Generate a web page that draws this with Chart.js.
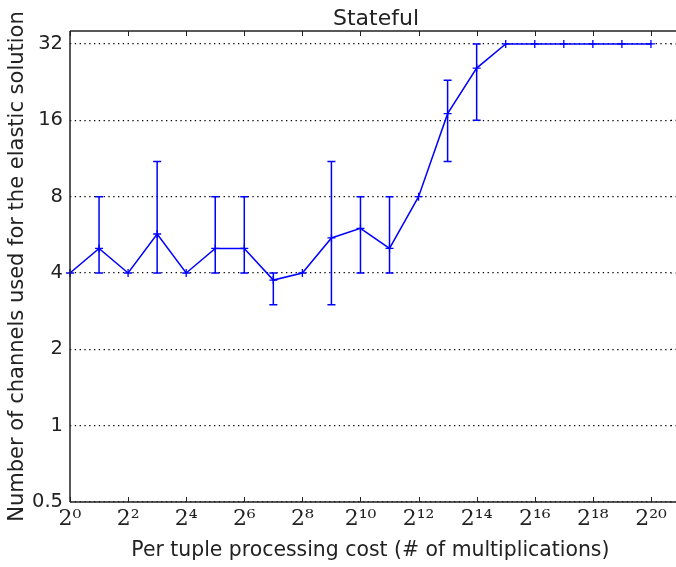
<!DOCTYPE html>
<html>
<head>
<meta charset="utf-8">
<script src="https://cdn.jsdelivr.net/npm/chart.js@4.4.0/dist/chart.umd.min.js"></script>
<style>
  html, body { margin: 0; padding: 0; background: #ffffff; }
  #wrap { width: 676px; height: 567px; }
</style>
</head>
<body>
<div id="wrap"><canvas id="c" width="676" height="567"></canvas></div>
<script>
// ---- data ----
const costs = [1, 2, 4, 8, 16, 32, 64, 128, 256, 512, 1024, 2048, 4096, 8192, 16384, 32768, 65536, 131072, 262144, 524288, 1048576];
const channels = [4, 5, 4, 5.7, 4, 5, 5, 3.75, 4, 5.5, 6, 5, 8, 17, 25.7, 32, 32, 32, 32, 32, 32];
const errLow  = [4, 4, 4, 4, 4, 4, 4, 3, 4, 3, 4, 4, 8, 11, 16, 32, 32, 32, 32, 32, 32];
const errHigh = [4, 8, 4, 11, 4, 8, 8, 4, 4, 11, 8, 8, 8, 23, 32, 32, 32, 32, 32, 32, 32];
const xTicks = [1, 4, 16, 64, 256, 1024, 4096, 16384, 65536, 262144, 1048576];
const xTickLabels = ['2⁰', '2²', '2⁴', '2⁶', '2⁸', '2¹⁰', '2¹²', '2¹⁴', '2¹⁶', '2¹⁸', '2²⁰'];
const yTicks = [0.5, 1, 2, 4, 8, 16, 32];
const yTickLabels = ['0.5', '1', '2', '4', '8', '16', '32'];
const chartTitle = 'Stateful';

const BLUE = '#0000ff';
const INK = '#222222';
const GRID_DASH = [1.3, 3.5];

const errorBars = {
  id: 'errorBars',
  afterDatasetsDraw(chart) {
    const ctx = chart.ctx, xs = chart.scales.x, ys = chart.scales.y;
    ctx.save();
    ctx.strokeStyle = BLUE;
    ctx.lineWidth = 1.5;
    costs.forEach((c, i) => {
      if (errLow[i] === errHigh[i]) return;
      const x = xs.getPixelForValue(c);
      const y1 = ys.getPixelForValue(errLow[i]);
      const y2 = ys.getPixelForValue(errHigh[i]);
      ctx.beginPath();
      ctx.moveTo(x, y1); ctx.lineTo(x, y2);
      ctx.moveTo(x - 4, y1); ctx.lineTo(x + 4, y1);
      ctx.moveTo(x - 4, y2); ctx.lineTo(x + 4, y2);
      ctx.stroke();
    });
    ctx.restore();
  }
};

const frame = {
  id: 'frame',
  beforeDatasetsDraw(chart) {
    // continue the dotted grid lines to the right edge of the canvas
    const ctx = chart.ctx, a = chart.chartArea, ys = chart.scales.y;
    ctx.save();
    ctx.strokeStyle = '#000000';
    ctx.lineWidth = 1.2;
    ctx.setLineDash(GRID_DASH);
    ctx.beginPath();
    yTicks.forEach(v => {
      const y = ys.getPixelForValue(v);
      ctx.moveTo(a.right, y); ctx.lineTo(chart.width, y);
    });
    ctx.stroke();
    ctx.restore();
  },
  afterDraw(chart) {
    const ctx = chart.ctx, a = chart.chartArea, xs = chart.scales.x;
    ctx.save();
    ctx.strokeStyle = INK;
    ctx.lineWidth = 1.5;
    ctx.beginPath();
    ctx.moveTo(a.left, a.top); ctx.lineTo(chart.width, a.top);
    ctx.moveTo(a.left, a.top); ctx.lineTo(a.left, a.bottom);
    ctx.moveTo(a.left, a.bottom); ctx.lineTo(chart.width, a.bottom);
    ctx.stroke();
    ctx.lineWidth = 1;
    ctx.beginPath();
    xTicks.forEach(v => {
      const x = Math.round(xs.getPixelForValue(v)) + 0.5;
      ctx.moveTo(x, a.bottom); ctx.lineTo(x, a.bottom - 5);
      ctx.moveTo(x, a.top); ctx.lineTo(x, a.top + 5);
    });
    ctx.stroke();
    // title centred over the axes box
    ctx.fillStyle = INK;
    ctx.font = '22px "DejaVu Sans"';
    ctx.textAlign = 'center';
    ctx.textBaseline = 'alphabetic';
    ctx.fillText(chartTitle, 376, 25);
    ctx.restore();
  }
};

new Chart(document.getElementById('c'), {
  type: 'line',
  data: {
    datasets: [{
      data: costs.map((c, i) => ({ x: c, y: channels[i] })),
      borderColor: BLUE,
      backgroundColor: BLUE,
      borderWidth: 1.5,
      pointStyle: 'cross',
      pointRadius: 4,
      pointBorderWidth: 1.3,
      pointBorderColor: BLUE,
      tension: 0,
      clip: false
    }]
  },
  options: {
    responsive: false,
    animation: false,
    devicePixelRatio: 1,
    layout: { padding: { left: 0, right: 0, top: 31, bottom: 0 } },
    plugins: {
      legend: { display: false },
      tooltip: { enabled: false },
      title: { display: false }
    },
    scales: {
      x: {
        type: 'logarithmic',
        min: 1,
        max: Math.pow(2, 20.68),
        afterBuildTicks(s) { s.ticks = xTicks.map(v => ({ value: v })); },
        afterFit(s) { s.height = 65; s.paddingLeft = 0; s.paddingRight = 0; },
        grid: { display: false, drawTicks: false },
        border: { display: false },
        ticks: {
          autoSkip: false,
          maxRotation: 0,
          padding: 4,
          color: INK,
          font: { family: 'DejaVu Serif', size: 22 },
          callback(v) { const i = xTicks.indexOf(v); return i >= 0 ? xTickLabels[i] : ''; }
        },
        title: {
          display: true,
          text: 'Per tuple processing cost (# of multiplications)',
          color: INK,
          font: { family: 'DejaVu Sans', size: 20.4 },
          padding: { top: 0, bottom: 4 }
        }
      },
      y: {
        type: 'logarithmic',
        min: 0.5,
        max: 36,
        afterBuildTicks(s) { s.ticks = yTicks.map(v => ({ value: v })); },
        afterFit(s) { s.width = 70; },
        grid: {
          display: true,
          drawTicks: false,
          color: '#000000',
          lineWidth: 1.2,
          tickLength: 0
        },
        border: { display: false, dash: GRID_DASH },
        ticks: {
          autoSkip: false,
          padding: 7,
          color: INK,
          font: { family: 'DejaVu Sans', size: 19.5 },
          callback(v) { const i = yTicks.indexOf(v); return i >= 0 ? yTickLabels[i] : ''; }
        },
        title: {
          display: true,
          text: 'Number of channels used for the elastic solution',
          color: INK,
          font: { family: 'DejaVu Sans', size: 21 },
          padding: { top: 5, bottom: 0 }
        }
      }
    }
  },
  plugins: [errorBars, frame]
});
</script>
</body>
</html>
